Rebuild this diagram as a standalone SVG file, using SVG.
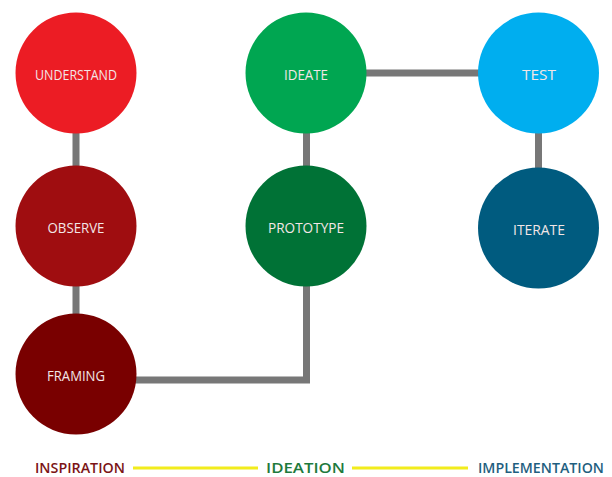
<svg xmlns="http://www.w3.org/2000/svg" width="612" height="477" viewBox="0 0 612 477">
<style>
.lbl{font-family:"Open Sans","DejaVu Sans",sans-serif;font-size:14.5px;fill:#f3e6e6;text-anchor:middle;dominant-baseline:central}
.conn{stroke:#777;stroke-width:7;fill:none}
.ph{font-family:"Open Sans","DejaVu Sans",sans-serif;font-size:15px;font-weight:600;dominant-baseline:central}
.yl{stroke:#f2ec1c;stroke-width:3}
</style>
<rect width="612" height="477" fill="#fff"/>
<g id="connectors">
<line class="conn" x1="76" y1="73" x2="76" y2="374"/>
<polyline class="conn" points="76,380 306.5,380 306.5,73 538.5,73"/>
<line class="conn" x1="538.5" y1="73" x2="538.5" y2="228"/>
</g>
<g id="understand"><circle cx="76" cy="73" r="60.5" fill="#ec1c24"/><text class="lbl" x="76" y="74" textLength="82" lengthAdjust="spacingAndGlyphs">UNDERSTAND</text></g>
<g id="observe"><circle cx="76" cy="226" r="60.5" fill="#9f0d10"/><text class="lbl" x="76" y="227" textLength="57" lengthAdjust="spacingAndGlyphs">OBSERVE</text></g>
<g id="framing"><circle cx="76" cy="374" r="60.5" fill="#790000"/><text class="lbl" x="76" y="375" textLength="58" lengthAdjust="spacingAndGlyphs">FRAMING</text></g>
<g id="ideate"><circle cx="306" cy="73" r="60.5" fill="#00a651"/><text class="lbl" x="306" y="74" textLength="44" lengthAdjust="spacingAndGlyphs">IDEATE</text></g>
<g id="prototype"><circle cx="306" cy="226" r="60.5" fill="#007236"/><text class="lbl" x="306" y="227" textLength="76" lengthAdjust="spacingAndGlyphs">PROTOTYPE</text></g>
<g id="test"><circle cx="538.5" cy="73" r="60.5" fill="#00aeef"/><text class="lbl" x="539" y="74" textLength="34" lengthAdjust="spacingAndGlyphs">TEST</text></g>
<g id="iterate"><circle cx="538.5" cy="228" r="60.5" fill="#005b7f"/><text class="lbl" x="539" y="229" textLength="52" lengthAdjust="spacingAndGlyphs">ITERATE</text></g>
<g id="phases">
<text class="ph" x="35" y="467" fill="#7b1416" textLength="90" lengthAdjust="spacingAndGlyphs">INSPIRATION</text>
<line class="yl" x1="133" y1="468" x2="258" y2="468"/>
<text class="ph" x="266" y="467" fill="#1e7a3c" textLength="79" lengthAdjust="spacingAndGlyphs">IDEATION</text>
<line class="yl" x1="352" y1="468" x2="468" y2="468"/>
<text class="ph" x="478" y="467" fill="#1f5f80" textLength="126" lengthAdjust="spacingAndGlyphs">IMPLEMENTATION</text>
</g>
</svg>
